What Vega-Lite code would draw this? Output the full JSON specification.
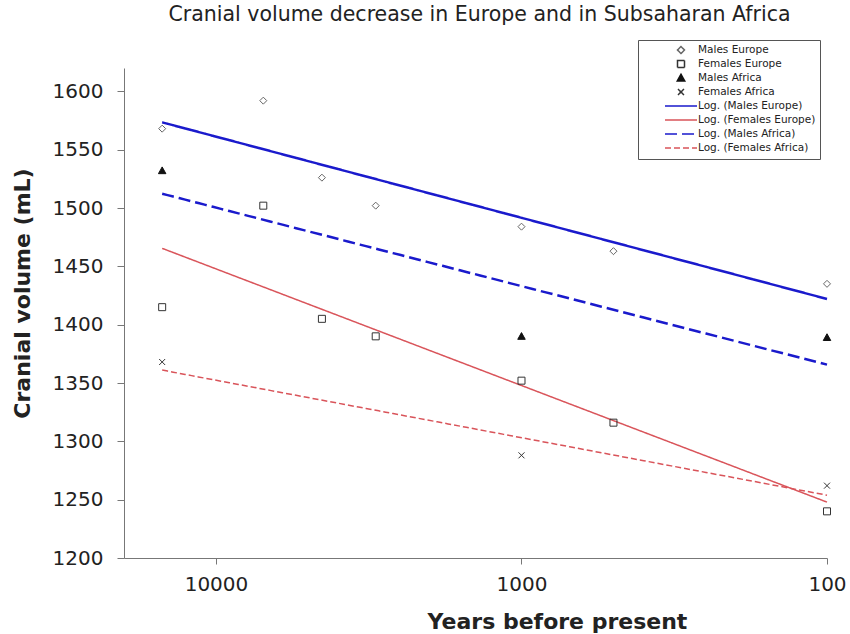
{
  "$schema": "https://vega.github.io/schema/vega-lite/v6.json",
  "width": 703,
  "height": 490,
  "autosize": {"type": "none"},
  "padding": {"left": 124, "top": 68, "right": 23, "bottom": 76},
  "background": "white",
  "title": {
    "text": "Cranial volume decrease  in Europe and in Subsaharan Africa",
    "font": "DejaVu Sans",
    "fontSize": 20.5,
    "fontWeight": "normal",
    "color": "#222",
    "anchor": "middle",
    "frame": "group",
    "offset": 14,
    "dx": 4
  },
  "config": {
    "view": {"stroke": null},
    "font": "DejaVu Sans",
    "axis": {
      "domainColor": "#777",
      "tickColor": "#777",
      "labelFont": "DejaVu Sans",
      "labelFontSize": 20,
      "labelColor": "#222",
      "titleFont": "DejaVu Sans",
      "titleFontSize": 22,
      "titleFontWeight": "bold",
      "titleColor": "#222",
      "grid": false
    },
    "legend": {
      "orient": "none",
      "legendX": 514,
      "legendY": -28,
      "strokeColor": "#555",
      "fillColor": "white",
      "padding": 4,
      "labelFont": "DejaVu Sans",
      "labelFontSize": 10.5,
      "labelColor": "#222",
      "symbolSize": 100,
      "symbolStrokeWidth": 1.5,
      "symbolOffset": 33,
      "labelOffset": 11,
      "rowPadding": 0
    }
  },
  "data": {
    "values": [
      {"series": "Males Europe", "fit": "Log. (Males Europe)", "years": 15000, "volume": 1568},
      {"series": "Males Europe", "fit": "Log. (Males Europe)", "years": 7000, "volume": 1592},
      {"series": "Males Europe", "fit": "Log. (Males Europe)", "years": 4500, "volume": 1526},
      {"series": "Males Europe", "fit": "Log. (Males Europe)", "years": 3000, "volume": 1502},
      {"series": "Males Europe", "fit": "Log. (Males Europe)", "years": 1000, "volume": 1484},
      {"series": "Males Europe", "fit": "Log. (Males Europe)", "years": 500, "volume": 1463},
      {"series": "Males Europe", "fit": "Log. (Males Europe)", "years": 100, "volume": 1435},
      {"series": "Females Europe", "fit": "Log. (Females Europe)", "years": 15000, "volume": 1415},
      {"series": "Females Europe", "fit": "Log. (Females Europe)", "years": 7000, "volume": 1502},
      {"series": "Females Europe", "fit": "Log. (Females Europe)", "years": 4500, "volume": 1405},
      {"series": "Females Europe", "fit": "Log. (Females Europe)", "years": 3000, "volume": 1390},
      {"series": "Females Europe", "fit": "Log. (Females Europe)", "years": 1000, "volume": 1352},
      {"series": "Females Europe", "fit": "Log. (Females Europe)", "years": 500, "volume": 1316},
      {"series": "Females Europe", "fit": "Log. (Females Europe)", "years": 100, "volume": 1240},
      {"series": "Males Africa", "fit": "Log. (Males Africa)", "years": 15000, "volume": 1532},
      {"series": "Males Africa", "fit": "Log. (Males Africa)", "years": 1000, "volume": 1390},
      {"series": "Males Africa", "fit": "Log. (Males Africa)", "years": 100, "volume": 1389},
      {"series": "Females Africa", "fit": "Log. (Females Africa)", "years": 15000, "volume": 1368},
      {"series": "Females Africa", "fit": "Log. (Females Africa)", "years": 1000, "volume": 1288},
      {"series": "Females Africa", "fit": "Log. (Females Africa)", "years": 100, "volume": 1262}
    ]
  },
  "encoding": {
    "x": {
      "field": "years",
      "type": "quantitative",
      "scale": {"type": "log", "domain": [100, 20000], "reverse": true, "nice": false},
      "axis": {
        "values": [10000, 1000, 100],
        "format": "d",
        "tickSize": 6,
        "labelPadding": 10,
        "labelFlush": false,
        "labelOverlap": false,
        "title": "Years before  present",
        "titleX": 433,
        "titleY": 63,
        "titleAlign": "center",
        "titleBaseline": "middle"
      }
    },
    "y": {
      "field": "volume",
      "type": "quantitative",
      "scale": {"domain": [1200, 1620], "nice": false, "zero": false},
      "axis": {
        "values": [1200, 1250, 1300, 1350, 1400, 1450, 1500, 1550, 1600],
        "format": "d",
        "tickSize": 7,
        "labelPadding": 14,
        "title": "Cranial volume (mL)",
        "titleX": -102,
        "titleY": 225,
        "titleAlign": "center",
        "titleBaseline": "middle"
      }
    }
  },
  "layer": [
    {
      "transform": [
        {"regression": "volume", "on": "years", "method": "log", "groupby": ["fit"]},
        {"filter": {"field": "fit", "oneOf": ["Log. (Males Europe)", "Log. (Males Africa)"]}}
      ],
      "mark": {"type": "line", "strokeWidth": 2.5},
      "encoding": {
        "color": {
          "field": "fit", "type": "nominal",
          "scale": {
            "domain": ["Males Europe", "Females Europe", "Males Africa", "Females Africa", "Log. (Males Europe)", "Log. (Females Europe)", "Log. (Males Africa)", "Log. (Females Africa)"],
            "range": ["#666666", "#333333", "#111111", "#333333", "#1a1acc", "#d9545a", "#1a1acc", "#d9545a"]
          },
          "legend": {"title": null}
        },
        "strokeDash": {
          "field": "fit", "type": "nominal",
          "scale": {
            "domain": ["Males Europe", "Females Europe", "Males Africa", "Females Africa", "Log. (Males Europe)", "Log. (Females Europe)", "Log. (Males Africa)", "Log. (Females Africa)"],
            "range": [[1, 0], [1, 0], [1, 0], [1, 0], [1, 0], [1, 0], [12, 5], [6, 3]]
          },
          "legend": {"title": null}
        }
      }
    },
    {
      "transform": [
        {"regression": "volume", "on": "years", "method": "log", "groupby": ["fit"]},
        {"filter": {"field": "fit", "oneOf": ["Log. (Females Europe)", "Log. (Females Africa)"]}}
      ],
      "mark": {"type": "line", "strokeWidth": 1.5},
      "encoding": {
        "color": {
          "field": "fit", "type": "nominal",
          "scale": {
            "domain": ["Males Europe", "Females Europe", "Males Africa", "Females Africa", "Log. (Males Europe)", "Log. (Females Europe)", "Log. (Males Africa)", "Log. (Females Africa)"],
            "range": ["#666666", "#333333", "#111111", "#333333", "#1a1acc", "#d9545a", "#1a1acc", "#d9545a"]
          },
          "legend": {"title": null}
        },
        "strokeDash": {
          "field": "fit", "type": "nominal",
          "scale": {
            "domain": ["Males Europe", "Females Europe", "Males Africa", "Females Africa", "Log. (Males Europe)", "Log. (Females Europe)", "Log. (Males Africa)", "Log. (Females Africa)"],
            "range": [[1, 0], [1, 0], [1, 0], [1, 0], [1, 0], [1, 0], [12, 5], [6, 3]]
          },
          "legend": {"title": null}
        }
      }
    },
    {
      "mark": {"type": "point", "filled": false, "size": 100, "strokeWidth": 1, "opacity": 1},
      "encoding": {
        "shape": {
          "field": "series", "type": "nominal",
          "scale": {
            "domain": ["Males Europe", "Females Europe", "Males Africa", "Females Africa", "Log. (Males Europe)", "Log. (Females Europe)", "Log. (Males Africa)", "Log. (Females Africa)"],
            "range": [
              "M0,-0.7L0.7,0L0,0.7L-0.7,0ZM0,-0.78L0,-0.78M0,0.78L0,0.78",
              "M-0.7,-0.7H0.7V0.7H-0.7ZM0,-0.78L0,-0.78M0,0.78L0,0.78",
              "M0,-0.75L0.75,0.6L-0.75,0.6ZM0,-0.78L0,-0.78M0,0.78L0,0.78",
              "M-0.6,-0.6L0.6,0.6M-0.6,0.6L0.6,-0.6M0,-0.78L0,-0.78M0,0.78L0,0.78",
              "M-3.2,0H3.2M0,-0.78L0,-0.78M0,0.78L0,0.78",
              "M-3.2,0H3.2M0,-0.78L0,-0.78M0,0.78L0,0.78",
              "M-3.2,0H3.2M0,-0.78L0,-0.78M0,0.78L0,0.78",
              "M-3.2,0H3.2M0,-0.78L0,-0.78M0,0.78L0,0.78"
            ]
          },
          "legend": {"title": null}
        },
        "color": {
          "field": "series", "type": "nominal",
          "scale": {
            "domain": ["Males Europe", "Females Europe", "Males Africa", "Females Africa", "Log. (Males Europe)", "Log. (Females Europe)", "Log. (Males Africa)", "Log. (Females Africa)"],
            "range": ["#666666", "#333333", "#111111", "#333333", "#1a1acc", "#d9545a", "#1a1acc", "#d9545a"]
          },
          "legend": {"title": null}
        },
        "fill": {
          "field": "series", "type": "nominal",
          "scale": {
            "domain": ["Males Europe", "Females Europe", "Males Africa", "Females Africa", "Log. (Males Europe)", "Log. (Females Europe)", "Log. (Males Africa)", "Log. (Females Africa)"],
            "range": ["transparent", "transparent", "#111111", "transparent", "transparent", "transparent", "transparent", "transparent"]
          },
          "legend": {"title": null}
        }
      }
    }
  ]
}
